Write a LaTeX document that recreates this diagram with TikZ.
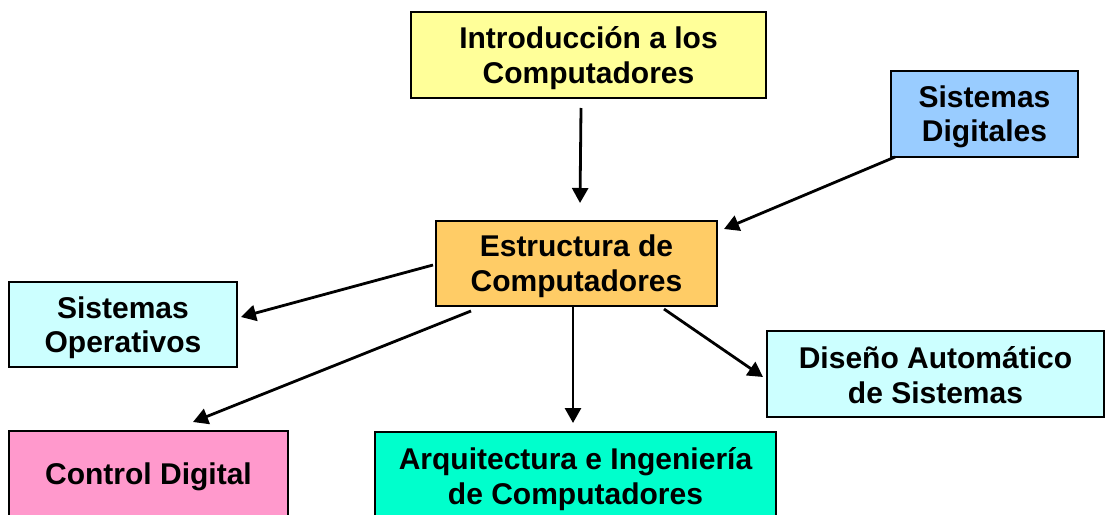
\documentclass[tikz,border=0pt]{standalone}
\usepackage{fontspec}
\setmainfont{Liberation Sans}
\usetikzlibrary{arrows.meta,calc}
\definecolor{cyellow}{HTML}{FFFF99}
\definecolor{cblue}{HTML}{99CCFF}
\definecolor{corange}{HTML}{FFCC66}
\definecolor{ccyan}{HTML}{CCFFFF}
\definecolor{cpink}{HTML}{FF99CC}
\definecolor{cgreen}{HTML}{00FFCC}
\tikzset{
  box/.style={draw=black, line width=2.8pt, inner sep=0pt, outer sep=0pt},
  txt/.style={inner sep=0pt, align=center, font=\fontsize{30}{34.5}\selectfont\bfseries},
  conn/.style={line width=2.8pt, -{Triangle[length=15pt,width=16pt]}}
}
\begin{document}
\begin{tikzpicture}[x=1pt,y=-1pt]
\useasboundingbox (0,0) rectangle (1105,514);
\node[box, fill=cyellow, minimum width=355pt, minimum height=86pt] (intro) at (588.5,55) {};
\node[txt] (introT) at ([yshift=-3pt]intro.center) {Introducción a los\\Computadores};
\node[box, fill=cblue, minimum width=187pt, minimum height=86pt] (sisdig) at (984.5,114) {};
\node[txt] (sisdigT) at ([yshift=-3pt]sisdig.center) {Sistemas\\Digitales};
\node[box, fill=corange, minimum width=281pt, minimum height=85pt] (estr) at (576.5,263.5) {};
\node[txt] (estrT) at ([yshift=-2.5pt]estr.center) {Estructura de\\Computadores};
\node[box, fill=ccyan, minimum width=228pt, minimum height=85pt] (sisop) at (123,324.5) {};
\node[txt] (sisopT) at ([yshift=-3pt]sisop.center) {Sistemas\\Operativos};
\node[box, fill=ccyan, minimum width=337pt, minimum height=86pt] (dis) at (935.5,374) {};
\node[txt] (disT) at ([yshift=-1pt]dis.center) {Diseño Automático\\de Sistemas};
\node[box, fill=cpink, minimum width=279pt, minimum height=88pt] (ctrl) at (148.5,475) {};
\node[txt] (ctrlT) at ([yshift=-2pt]ctrl.center) {Control Digital};
\node[box, fill=cgreen, minimum width=401pt, minimum height=88pt] (arq) at (575.5,476) {};
\node[txt] (arqT) at ([yshift=-3pt]arq.center) {Arquitectura e Ingeniería\\de Computadores};

\draw[conn] ($(intro.south)+(-7.5,10)$) -- ($(estr.north)+(3.5,-18)$);
\draw[conn] ($(sisdig.south west)+(4,0)$) -- ($(estr.north east)+(7,8)$);
\draw[conn] ($(estr.west)+(-3,1.5)$) -- ($(sisop.east)+(4,-7.5)$);
\draw[conn] ($(estr.south west)+(35,5)$) -- ($(ctrl.north)+(44.5,-9)$);
\draw[conn] ($(estr.south)+(-3.5,1)$) -- ($(arq.north)+(-2.5,-9)$);
\draw[conn] ($(estr.south east)+(-53,3)$) -- ($(dis.west)+(-4,3)$);
\end{tikzpicture}
\end{document}
